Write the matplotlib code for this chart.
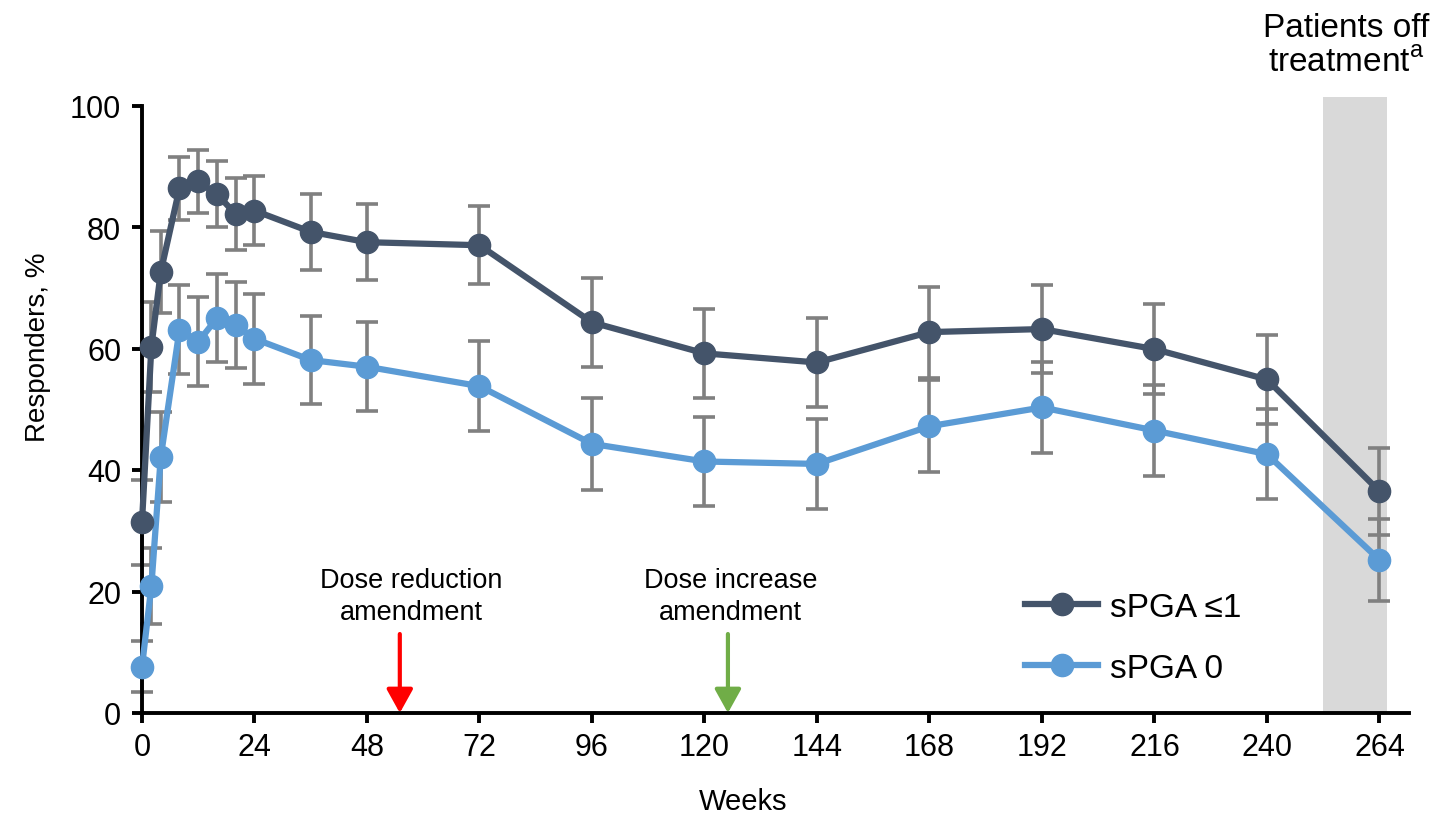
import matplotlib
matplotlib.use("Agg")
import matplotlib.pyplot as plt

plt.rcParams['font.family'] = ['Liberation Sans', 'DejaVu Sans']
plt.rcParams['mathtext.fontset'] = 'custom'
plt.rcParams['mathtext.rm'] = 'Liberation Sans'

weeks = [0, 2, 4, 8, 12, 16, 20, 24, 36, 48, 72, 96, 120, 144, 168, 192, 216, 240, 264]
spga_le1 = [31.4, 60.3, 72.6, 86.4, 87.5, 85.4, 82.1, 82.7, 79.2, 77.5, 77.0, 64.3, 59.2, 57.7, 62.7, 63.2, 59.9, 54.9, 36.5]
spga_le1_err = [7.0, 7.4, 6.8, 5.2, 5.2, 5.4, 5.9, 5.7, 6.2, 6.3, 6.4, 7.3, 7.3, 7.4, 7.5, 7.3, 7.4, 7.4, 7.2]
spga_0 = [7.6, 20.9, 42.1, 63.1, 61.1, 65.0, 63.9, 61.6, 58.1, 57.0, 53.8, 44.3, 41.4, 41.0, 47.2, 50.3, 46.5, 42.6, 25.2]
spga_0_err = [4.2, 6.3, 7.4, 7.3, 7.3, 7.3, 7.1, 7.4, 7.2, 7.3, 7.4, 7.6, 7.4, 7.4, 7.6, 7.5, 7.5, 7.4, 6.8]
series_labels = ['sPGA ≤1', 'sPGA 0']
xticks = [0, 24, 48, 72, 96, 120, 144, 168, 192, 216, 240, 264]
yticks = [0, 20, 40, 60, 80, 100]
off_treatment = (252, 265.5)
dose_reduction_week = 55
dose_increase_week = 125

dark = '#44546A'
light = '#5B9BD5'
grey = '#808080'

fig = plt.figure(figsize=(14.42, 8.2), dpi=100)
ax = fig.add_axes([142/1442, 1-714/820, (1409-142)/1442, (714-106.5)/820])

ax.axvspan(off_treatment[0], off_treatment[1], ymin=0, ymax=1.014, color='#D9D9D9', zorder=0, clip_on=False, lw=0)

for y, e in [(spga_le1, spga_le1_err), (spga_0, spga_0_err)]:
    ax.errorbar(weeks, y, yerr=e, fmt='none', ecolor=grey, elinewidth=2.6, capsize=8, capthick=2.6, zorder=2, clip_on=False)

ax.plot(weeks, spga_0, color=light, lw=4.5, marker='o', ms=16, zorder=3, clip_on=False, label=series_labels[1])
ax.plot(weeks, spga_le1, color=dark, lw=4.5, marker='o', ms=16, zorder=4, clip_on=False, label=series_labels[0])

ax.set_xlim(0, 270.3)
ax.set_ylim(0, 100)
ax.set_xticks(xticks)
ax.set_yticks(yticks)
for s in ['top', 'right']:
    ax.spines[s].set_visible(False)
for s in ['left', 'bottom']:
    ax.spines[s].set_linewidth(2.8)
ax.tick_params(axis='both', width=2.8, length=7, labelsize=22, colors='black')
ax.tick_params(axis='y', pad=8)
ax.tick_params(axis='x', pad=7)

handles, labels = ax.get_legend_handles_labels()
leg = ax.legend(handles[::-1], labels[::-1], loc='upper left', bbox_to_anchor=(1025/1442, 1-593/820),
                bbox_transform=fig.transFigure, frameon=False, fontsize=24, handlelength=2.2,
                handletextpad=0.35, labelspacing=0.9, borderpad=0, borderaxespad=0)

ax.annotate('', xy=(dose_reduction_week, 0), xytext=(dose_reduction_week, 13),
            arrowprops=dict(arrowstyle='-|>,head_length=0.72,head_width=0.4', color='#FF0000', lw=3,
                            shrinkA=0, shrinkB=0, mutation_scale=20), zorder=5)
ax.annotate('', xy=(dose_increase_week, 0), xytext=(dose_increase_week, 13),
            arrowprops=dict(arrowstyle='-|>,head_length=0.72,head_width=0.4', color='#70AD47', lw=3,
                            shrinkA=0, shrinkB=0, mutation_scale=20), zorder=5)
ax.text(57.5, 19.2, 'Dose reduction\namendment', ha='center', va='center', fontsize=19.5, linespacing=1.3)
ax.text(125.5, 19.2, 'Dose increase\namendment', ha='center', va='center', fontsize=19.5, linespacing=1.3)

fig.text(1346/1442, 1-46/820, 'Patients off\ntreatment$^{\\mathrm{a}}$', ha='center', va='center', fontsize=24, linespacing=1.15)
fig.text(38/1442, 1-347/820, 'Responders, %', rotation=90, ha='center', va='center', fontsize=20)
fig.text(743/1442, 1-802/820, 'Weeks', ha='center', va='center', fontsize=21)

fig.savefig('out.png', dpi=100)
